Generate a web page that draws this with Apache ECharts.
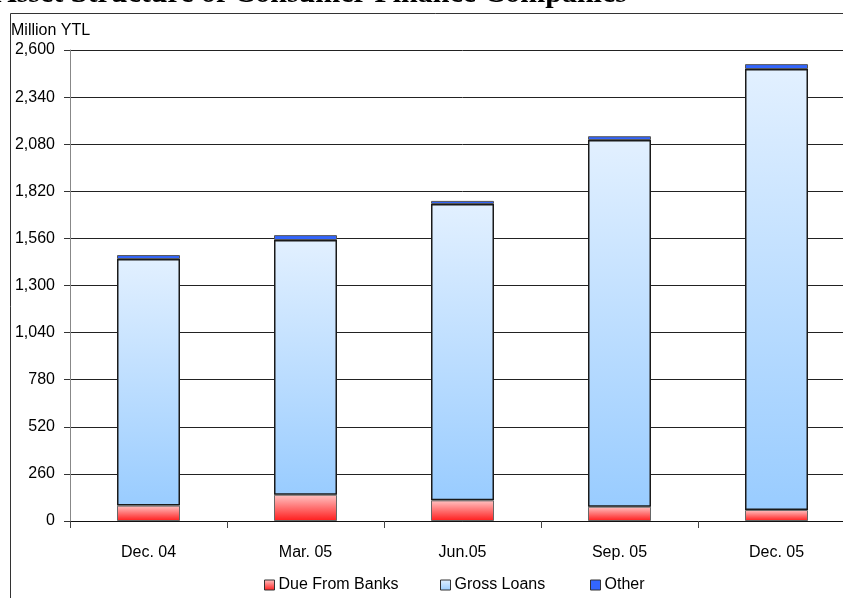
<!DOCTYPE html>
<html>
<head>
<meta charset="utf-8">
<script src="https://cdn.jsdelivr.net/npm/echarts@6/dist/echarts.min.js"></script>
<style>
  html, body { margin: 0; padding: 0; background: #fff; overflow: hidden; }
  #chart { width: 860px; height: 598px; }
</style>
</head>
<body>
<div id="chart"></div>
<script>
// Quarter-end periods
const categories = ['Dec. 04', 'Mar. 05', 'Jun.05', 'Sep. 05', 'Dec. 05'];
// Asset components, million YTL
const dueFromBanks = [85, 145, 114, 79, 61];
const grossLoans = [1361, 1406, 1636, 2024, 2434];
const other = [22, 27, 17, 21, 27];
// Value axis
const axisMin = 0;
const axisMax = 2600;
const axisStep = 260;

const FONT = '"Liberation Sans", Arial, sans-serif';

const chart = echarts.init(document.getElementById('chart'), null, { renderer: 'canvas' });

function vgrad(top, bottom) {
  return new echarts.graphic.LinearGradient(0, 0, 0, 1, [
    { offset: 0, color: top },
    { offset: 1, color: bottom }
  ]);
}

const legendBase = {
  top: 572,
  itemWidth: 10,
  itemHeight: 10,
  itemGap: 5,
  icon: 'rect',
  textStyle: { fontFamily: FONT, fontSize: 16, color: '#000', padding: [0, 0, 0, -1] },
  itemStyle: { borderColor: '#333', borderWidth: 1 }
};

chart.setOption({
  animation: false,
  backgroundColor: '#fff',
  grid: { left: 70, top: 50, right: 5, bottom: 77, containLabel: false },
  legend: [
    Object.assign({}, legendBase, { left: 259, data: ['Due From Banks'] }),
    Object.assign({}, legendBase, { left: 435, data: ['Gross Loans'] }),
    Object.assign({}, legendBase, { left: 585, data: ['Other'] })
  ],
  graphic: [
    {
      type: 'rect',
      shape: { x: 10.5, y: 13.5, width: 900, height: 700 },
      style: { fill: 'none', stroke: '#333', lineWidth: 1 },
      silent: true
    },
    {
      type: 'text',
      left: -5,
      top: -21,
      style: {
        text: 'Asset Structure of Consumer Finance Companies',
        font: 'bold 30px "Liberation Serif", "Times New Roman", serif',
        fill: '#000'
      },
      silent: true
    },
    {
      type: 'text',
      left: 11,
      top: 23,
      style: {
        text: 'Million YTL',
        font: '16px ' + FONT,
        fill: '#000'
      },
      silent: true
    }
  ],
  xAxis: {
    type: 'category',
    data: categories,
    axisLine: { lineStyle: { color: '#111', width: 1 } },
    axisTick: { show: true, length: 7, lineStyle: { color: '#444' } },
    axisLabel: { fontFamily: FONT, fontSize: 16, color: '#000', margin: 24 },
    splitLine: { show: false }
  },
  yAxis: {
    type: 'value',
    min: axisMin,
    max: axisMax,
    interval: axisStep,
    axisLine: { show: true, lineStyle: { color: '#888', width: 1 } },
    axisTick: { show: true, length: 6, lineStyle: { color: '#333' } },
    axisLabel: {
      fontFamily: FONT, fontSize: 16, color: '#000', margin: 15,
      formatter: v => v.toLocaleString('en-US')
    },
    splitLine: { show: true, lineStyle: { color: '#222', width: 1 } }
  },
  series: [
    {
      name: 'Due From Banks',
      type: 'bar',
      stack: 'assets',
      barWidth: 63,
      data: dueFromBanks,
      itemStyle: { color: vgrad('#ffc4c4', '#ff1c1c'), borderColor: '#666', borderWidth: 1 }
    },
    {
      name: 'Gross Loans',
      type: 'bar',
      stack: 'assets',
      barWidth: 63,
      data: grossLoans,
      itemStyle: { color: vgrad('#e2f0ff', '#99ccff'), borderColor: '#1a1a1a', borderWidth: 1.5 }
    },
    {
      name: 'Other',
      type: 'bar',
      stack: 'assets',
      barWidth: 63,
      data: other,
      itemStyle: { color: '#3366ff', borderColor: '#555', borderWidth: 1 }
    }
  ]
});
</script>
</body>
</html>
